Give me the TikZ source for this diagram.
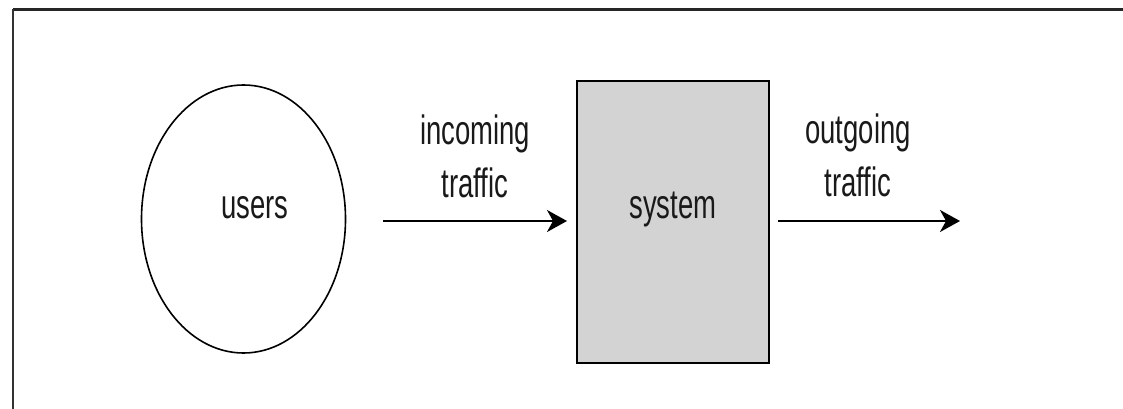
\documentclass[tikz,border=0pt]{standalone}
\usepackage{fontspec}
\setmainfont{Liberation Sans}
\usetikzlibrary{arrows.meta,shapes.geometric}
\begin{document}
\begin{tikzpicture}[x=1pt,y=1pt,
  lbl/.style={font=\fontsize{41}{53}\selectfont, xscale=0.67, inner sep=0pt, align=center, text=black!90},
  edge/.style={line width=1.6pt, draw=black},
  flow/.style={line width=1.8pt, -{Stealth[length=20pt,width=22pt,inset=6pt]}}
]
\useasboundingbox (0,0) rectangle (1123,-409);
% frame
\draw[line width=2.2pt, black!85] (1123,-9.5) -- (13,-9.5);
\draw[line width=1.5pt, black!80] (13,-9.5) -- (13,-409);

% entities
\node[edge, ellipse, minimum width=204pt, minimum height=268pt, inner sep=0pt] (users) at (243.5,-219) {};
\node[edge, fill={rgb,255:red,211;green,211;blue,211}, minimum width=192pt, minimum height=282pt, inner sep=0pt] (system) at (673,-222) {};

\node[lbl, anchor=base] (userslbl) at (255,-218) {users};
\node[lbl, anchor=base] (systemlbl) at (673,-218) {system};

% flows
\coordinate (inStart) at (383,-221);
\coordinate (inEnd) at (567,-221);
\coordinate (outStart) at (778,-221);
\coordinate (outEnd) at (960,-221);
\draw[flow] (inStart) -- (inEnd);
\draw[flow] (outStart) -- (outEnd);

\node[lbl] (inlbl) at (475,-156) {incoming\\traffic};
\node[lbl] (outlbl) at (858,-155) {outgoing\\traffic};
\end{tikzpicture}
\end{document}
